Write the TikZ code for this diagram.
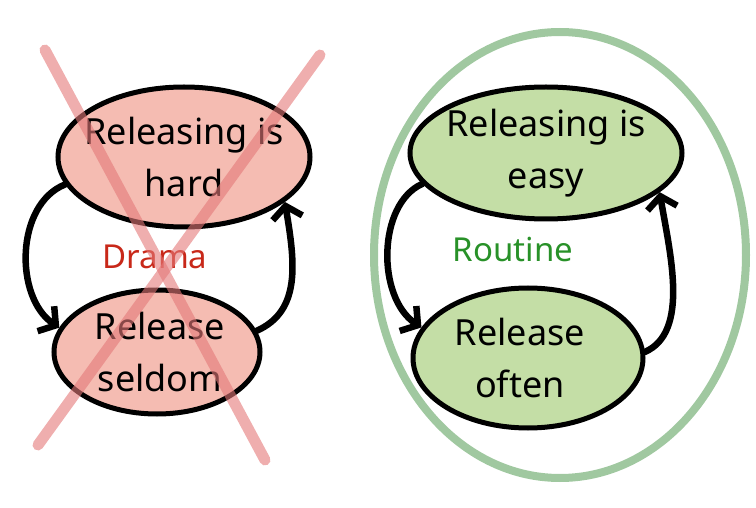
\documentclass[tikz,border=0pt]{standalone}
\usepackage{fontspec}
\setmainfont{Noto Sans}
\usetikzlibrary{shapes.geometric,arrows.meta}
\definecolor{pinkfill}{RGB}{245,188,178}
\definecolor{greenfill}{RGB}{196,222,166}
\definecolor{crossred}{RGB}{228,120,120}
\definecolor{ringgreen}{RGB}{160,200,160}
\definecolor{dramared}{RGB}{200,40,25}
\definecolor{routinegreen}{RGB}{40,145,40}
\tikzset{
  state/.style={ellipse, draw=black, line width=5pt, inner sep=0pt},
  badstate/.style={state, fill=pinkfill},
  goodstate/.style={state, fill=greenfill},
  statetext/.style={align=center, inner sep=0pt, font=\fontsize{36}{52}\selectfont},
  flow/.style={line width=6.5pt, line cap=round, -{Straight Barb[length=12pt,width=30pt,line width=6.5pt]}},
  label/.style={font=\fontsize{33}{36}\selectfont},
  cross/.style={line width=11pt, line cap=round, draw=crossred, opacity=0.6},
}
\begin{document}
\begin{tikzpicture}[x=1pt,y=1pt]
\useasboundingbox (0,0) rectangle (756,507);
% right ring
\node[ellipse, draw=ringgreen, line width=8pt, minimum width=372pt, minimum height=446pt] (ring) at (560,252) {};
% left side
\node[badstate, minimum width=252pt, minimum height=140pt] (lt) at (184,350) {};
\node[statetext] (lt-text) at (184,350) {Releasing is\\hard};
\node[badstate, minimum width=206pt, minimum height=124pt] (lb) at (157,155) {};
\node[statetext] (lb-text) at (160,155) {Release\\seldom};
\node[label, text=dramared] (drama) at (155,250) {Drama};
\draw[flow] (lt.193) .. controls +(-50,-20) and +(-45,30) .. (lb.166);
\draw[flow] (lb.12) .. controls +(45,20) and +(10,-60) .. (lt.336);
% right side
\node[goodstate, minimum width=272pt, minimum height=132pt] (rt) at (546,354) {};
\node[statetext] (rt-text) at (546,354) {Releasing is\\easy};
\node[goodstate, minimum width=230pt, minimum height=140pt] (rb) at (528,149) {};
\node[statetext] (rb-text) at (520,149) {Release\\often};
\node[label, text=routinegreen] (routine) at (513,257) {Routine};
\draw[flow] (rt.194) .. controls +(-45,-20) and +(-45,30) .. (rb.164);
\draw[flow] (rb.3) .. controls +(45,20) and +(10,-60) .. (rt.341);
% red cross over the left cycle
\coordinate (x1a) at (45,457);
\coordinate (x1b) at (265,47);
\coordinate (x2a) at (320,452);
\coordinate (x2b) at (38,62);
\draw[cross] (x1a) -- (x1b);
\draw[cross] (x2a) -- (x2b);
\end{tikzpicture}
\end{document}
